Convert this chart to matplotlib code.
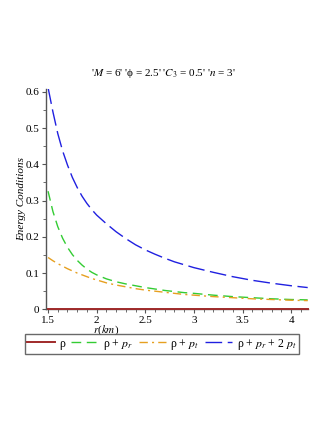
import matplotlib
matplotlib.use("Agg")
import matplotlib.pyplot as plt
from matplotlib.ticker import MultipleLocator

plt.rcParams['font.family'] = ['Liberation Serif', 'DejaVu Serif']
plt.rcParams['mathtext.fontset'] = 'stix'

r = [1.5, 1.55, 1.6, 1.65, 1.7, 1.75, 1.8, 1.85, 1.9, 1.95, 2.0, 2.1, 2.2, 2.3,
     2.4, 2.5, 2.6, 2.7, 2.8, 2.9, 3.0, 3.2, 3.4, 3.6, 3.8, 4.0, 4.17]
rho = [0.001] * len(r)
rho_pr = [0.326, 0.270, 0.228, 0.196, 0.171, 0.151, 0.135, 0.122, 0.111, 0.102,
          0.095, 0.084, 0.076, 0.070, 0.065, 0.060, 0.056, 0.052, 0.049, 0.046,
          0.044, 0.039, 0.035, 0.032, 0.029, 0.027, 0.026]
rho_pt = [0.143, 0.134, 0.126, 0.119, 0.112, 0.106, 0.100, 0.095, 0.090, 0.085,
          0.081, 0.073, 0.067, 0.062, 0.057, 0.053, 0.050, 0.047, 0.044, 0.041,
          0.039, 0.035, 0.032, 0.029, 0.027, 0.025, 0.024]
rho_pr_2pt = [0.612, 0.545, 0.485, 0.437, 0.398, 0.364, 0.336, 0.312, 0.292, 0.275,
              0.260, 0.236, 0.214, 0.195, 0.178, 0.164, 0.152, 0.141, 0.131, 0.123,
              0.115, 0.102, 0.090, 0.080, 0.072, 0.065, 0.060]

labels = ["ρ", "ρ + $p_r$", "ρ + $p_t$", "ρ + $p_r$ + 2 $p_t$"]
title = "'$M$ = 6' 'ϕ = 2.5' '$C_3$ = 0.5' '$n$ = 3'"
xticks = [1.5, 2, 2.5, 3, 3.5, 4]
xticklabels = ["1.5", "2", "2.5", "3", "3.5", "4"]
yticks = [0, 0.1, 0.2, 0.3, 0.4, 0.5, 0.6]
yticklabels = ["0", "0.1", "0.2", "0.3", "0.4", "0.5", "0.6"]

fig = plt.figure(figsize=(3.32, 4.30), dpi=100)
ax = fig.add_axes([0.1377, 0.2807, 0.9268 - 0.1377, 0.793 - 0.2807])

l2, = ax.plot(r, rho_pr, color='#33cc33', lw=1.0, dashes=(7, 4))
l3, = ax.plot(r, rho_pt, color='#e6a020', lw=1.0, dashes=(6, 3, 1.5, 3))
l4, = ax.plot(r, rho_pr_2pt, color='#2020e0', lw=1.0, dashes=(12, 4))
l1, = ax.plot(r, rho, color='#a02a2a', lw=1.4, clip_on=False, zorder=5)

ax.set_xlim(1.476, 4.17)
ax.set_ylim(0, 0.608)
for s in ['top', 'right']:
    ax.spines[s].set_visible(False)
for s in ['left', 'bottom']:
    ax.spines[s].set_color('#555555')
    ax.spines[s].set_linewidth(1.0)

ax.set_xticks(xticks)
ax.set_xticklabels(xticklabels)
ax.set_yticks(yticks)
ax.set_yticklabels(yticklabels)
ax.xaxis.set_minor_locator(MultipleLocator(0.1))
ax.yaxis.set_minor_locator(MultipleLocator(0.05))
ax.tick_params(axis='both', which='major', labelsize=8, length=3, width=0.8,
               color='#555555', pad=1.5)
ax.tick_params(axis='both', which='minor', length=2, width=0.6, color='#555555')

fig.text(0.492, 0.830, title, ha='center', va='center', fontsize=8)
fig.text(0.066, 0.537, "Energy Conditions", rotation=90, ha='center', va='center',
         fontsize=8, style='italic')
fig.text(0.318, 0.233, "$r$($km$)", ha='center', va='center', fontsize=8)

leg = fig.legend([l1, l2, l3, l4], labels, loc='center',
                 bbox_to_anchor=(0.488, 0.200), ncol=4, fontsize=8.5,
                 frameon=True, fancybox=False, handlelength=2.3,
                 handletextpad=0.4, columnspacing=0.5, borderpad=0.2,
                 borderaxespad=0)
leg.get_frame().set_edgecolor('#444444')
leg.get_frame().set_linewidth(1.0)

fig.savefig("out.png", dpi=100)
